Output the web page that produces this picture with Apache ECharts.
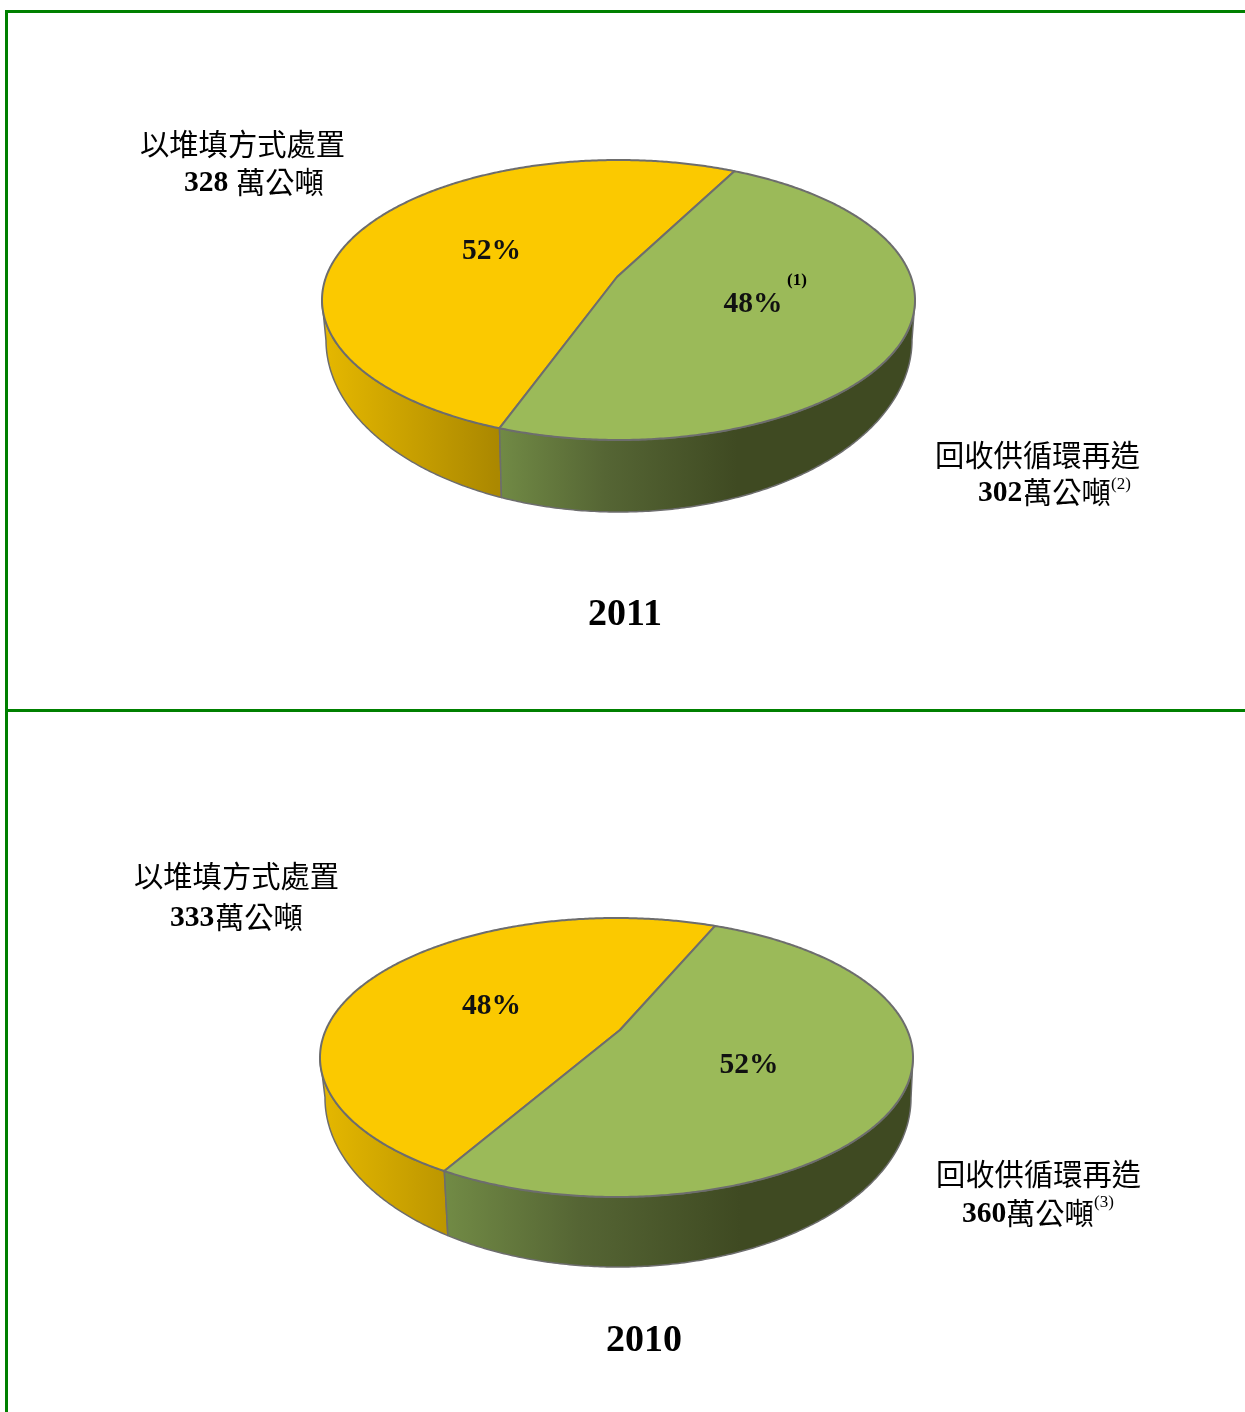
<!DOCTYPE html>
<html>
<head>
<meta charset="utf-8">
<style>
  html, body { margin: 0; padding: 0; background: #fff; }
  #chart { width: 1245px; height: 1412px; }
</style>
<script src="https://cdn.jsdelivr.net/npm/echarts@6/dist/echarts.min.js"></script>
</head>
<body>
<div id="chart"></div>
<script>
// 數據 (萬公噸)
var years = ['2011', '2010'];
var categories = ['以堆填方式處置', '回收供循環再造'];
var landfill = [328, 333];
var recycled = [302, 360];
var landfillPct = ['52%', '48%'];
var recycledPct = ['48%', '52%'];
var unit = '萬公噸';

var serif = '"Liberation Serif", "Noto Sans CJK TC"';
var cjk = '"Noto Sans CJK TC"';
var YELLOW = '#fbc900';
var GREEN = '#9bba59';
var EDGE = '#6d6d6d';
var FRAME = '#008000';

// 每個餅圖的位置: 頂面橢圓, 底面橢圓, 透視中心點, 起始角
var pies = [
  { cx: 618.5, cy: 300, rx: 296.5, ry: 140, bcx: 619, bcy: 340, brx: 293, bry: 172, ax: 617, ay: 277, start: 62.7,
    pctPos: [[491.5, 251.5], [753, 304.5]] },
  { cx: 616.5, cy: 1057.5, rx: 296.5, ry: 139.5, bcx: 618, bcy: 1098, brx: 293, bry: 169, ax: 620, ay: 1030, start: 67.1,
    pctPos: [[491.5, 1006.5], [749, 1065.5]] }
];

// 圓周上的角度 -> 透視後橢圓上的角度 (單位圓自同構)
function warp(deg, kx, ky) {
  var k = Math.sqrt(kx * kx + ky * ky);
  var t = (1 - Math.sqrt(1 - k * k)) / k;
  var ax = kx / k * t, ay = ky / k * t;
  var r = deg * Math.PI / 180;
  var zx = Math.cos(r), zy = Math.sin(r);
  // (z + a) / (1 + conj(a) z)
  var nx = zx + ax, ny = zy + ay;
  var dx = 1 + ax * zx + ay * zy, dy = ax * zy - ay * zx;
  return Math.atan2(ny * dx - nx * dy, nx * dx + ny * dy);
}

function wallGradient(colors, x0, x1) {
  return {
    type: 'linear', x: x0, y: 0, x2: x1, y2: 0, global: true,
    colorStops: colors.map(function (c) { return { offset: c[0], color: c[1] }; })
  };
}

function makeRender(pieIndex) {
  var p = pies[pieIndex];
  var kx = (p.ax - p.cx) / p.rx, ky = (p.cy - p.ay) / p.ry;
  return function (params, api) {
    var total = landfill[pieIndex] + recycled[pieIndex];
    var before = params.dataIndex === 0 ? 0 : landfill[pieIndex];
    var a0 = p.start + before / total * 360;
    var a1 = a0 + api.value(0) / total * 360;
    var top = [[p.ax, p.ay]], wallTop = [], wallBottom = [];
    for (var d = a0; ; d += 0.5) {
      if (d > a1) d = a1;
      var f = warp(d, kx, ky);
      var c = Math.cos(f), s = Math.sin(f);
      top.push([p.cx + p.rx * c, p.cy - p.ry * s]);
      if (s <= 0.004) {
        wallTop.push([p.cx + p.rx * c, p.cy - p.ry * s]);
        wallBottom.unshift([p.bcx + p.brx * c, p.bcy - p.bry * s]);
      }
      if (d === a1) break;
    }
    var isYellow = params.dataIndex === 0;
    var wallFill = isYellow
      ? wallGradient([[0, '#e3b600'], [1, '#ab8800']], p.cx - p.rx + 8, p.ax - 120)
      : wallGradient([[0, '#718a45'], [0.45, '#556534'], [1, '#3f4a22']], p.ax - 118 - (pieIndex ? 55 : 0), p.ax + 120);
    return {
      type: 'group',
      children: [
        { type: 'polygon', shape: { points: wallTop.concat(wallBottom) },
          style: { fill: wallFill, stroke: EDGE, lineWidth: 1.5, lineJoin: 'round' } },
        { type: 'polygon', shape: { points: top },
          style: { fill: isYellow ? YELLOW : GREEN, stroke: EDGE, lineWidth: 2, lineJoin: 'round' } },
        { type: 'text', x: p.pctPos[params.dataIndex][0], y: p.pctPos[params.dataIndex][1],
          style: { text: isYellow ? landfillPct[pieIndex] : recycledPct[pieIndex], fill: '#111',
            font: 'bold 29.5px ' + serif, align: 'center', verticalAlign: 'middle' } }
      ]
    };
  };
}

function label(x, y, text, size, weight, font, align) {
  return { type: 'text', z: 10, style: { x: x, y: y, text: text, fill: '#000', fontSize: size,
    fontWeight: weight || 'normal', fontFamily: font || serif, align: align || 'left', verticalAlign: 'middle' } };
}

var graphic = [
  // 綠色框線
  { type: 'rect', shape: { x: 5, y: 10, width: 1240, height: 3 }, style: { fill: FRAME } },
  { type: 'rect', shape: { x: 5, y: 10, width: 3, height: 1402 }, style: { fill: FRAME } },
  { type: 'rect', shape: { x: 5, y: 709, width: 1240, height: 3 }, style: { fill: FRAME } },
  // 2011
  label(140, 144, categories[0], 29.3, 'normal', cjk),
  label(184, 183, String(landfill[0]), 29.6, 'bold'),
  label(236, 182, unit, 29.3, 'normal', cjk),
  label(935, 455, categories[1], 29.3, 'normal', cjk),
  label(978, 493.5, String(recycled[0]), 29.6, 'bold'),
  label(1023, 492, unit, 29.3, 'normal', cjk),
  label(1111, 485, '(2)', 17),
  label(787, 281, '(1)', 17, 'bold'),
  label(625, 615, years[0], 38, 'bold', serif, 'center'),
  // 2010
  label(134, 876, categories[0], 29.3, 'normal', cjk),
  label(170, 918.5, String(landfill[1]), 29.6, 'bold'),
  label(215, 917, unit, 29.3, 'normal', cjk),
  label(936, 1174, categories[1], 29.3, 'normal', cjk),
  label(962, 1214.5, String(recycled[1]), 29.6, 'bold'),
  label(1006, 1213, unit, 29.3, 'normal', cjk),
  label(1094, 1203, '(3)', 17),
  label(644, 1341, years[1], 38, 'bold', serif, 'center')
];

var chart = echarts.init(document.getElementById('chart'), null, { renderer: 'canvas' });
chart.setOption({
  animation: false,
  backgroundColor: '#fff',
  graphic: graphic,
  series: years.map(function (year, i) {
    return {
      type: 'custom',
      name: year,
      coordinateSystem: 'none',
      renderItem: makeRender(i),
      data: [[landfill[i]], [recycled[i]]]
    };
  })
});
</script>
</body>
</html>
